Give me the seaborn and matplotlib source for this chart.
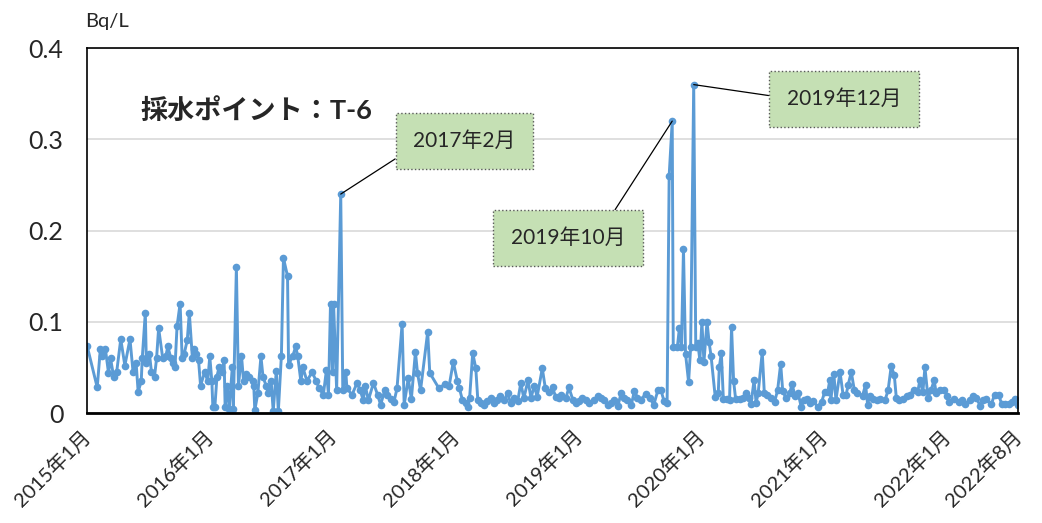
import seaborn as sns
import pandas as pd
import numpy as np
import matplotlib.pyplot as plt
from matplotlib.transforms import ScaledTranslation

# (months since 2015-01, Bq/L)
y2015 = [(0.0, 0.074), (1.0, 0.028), (1.3, 0.07), (1.5, 0.062), (1.8, 0.07), (2.1, 0.044), (2.3, 0.06),
         (2.6, 0.04), (2.9, 0.045), (3.3, 0.081), (3.7, 0.052), (4.2, 0.081), (4.5, 0.045), (4.8, 0.055),
         (5.0, 0.023), (5.3, 0.035), (5.4, 0.06), (5.7, 0.11), (5.8, 0.055), (6.1, 0.065), (6.3, 0.045),
         (6.6, 0.04), (6.8, 0.06), (7.0, 0.093), (7.4, 0.06), (7.7, 0.062), (7.9, 0.073), (8.2, 0.06),
         (8.4, 0.055), (8.6, 0.05), (8.8, 0.095), (9.1, 0.12), (9.3, 0.06), (9.5, 0.065), (9.8, 0.08),
         (10.0, 0.11), (10.3, 0.06), (10.5, 0.07), (10.7, 0.065), (10.9, 0.058), (11.1, 0.03),
         (11.5, 0.045), (11.8, 0.035)]
y2016 = [(12.0, 0.062), (12.2, 0.035), (12.3, 0.007), (12.5, 0.007), (12.7, 0.04), (12.9, 0.05),
         (13.2, 0.045), (13.4, 0.058), (13.5, 0.007), (13.7, 0.03), (13.9, 0.004), (14.2, 0.05),
         (14.3, 0.004), (14.6, 0.16), (14.8, 0.03), (15.1, 0.063), (15.3, 0.035), (15.5, 0.043),
         (15.8, 0.04), (16.2, 0.035), (16.3, 0.03), (16.4, 0.003), (16.7, 0.022), (17.0, 0.062),
         (17.2, 0.04), (17.5, 0.03), (17.7, 0.022), (18.0, 0.035), (18.2, 0.002), (18.5, 0.046),
         (18.7, 0.002), (19.0, 0.063), (19.2, 0.17), (19.6, 0.15), (19.7, 0.053), (20.1, 0.062),
         (20.4, 0.073), (20.6, 0.062), (20.9, 0.035), (21.1, 0.05), (21.5, 0.035), (22.0, 0.045),
         (22.4, 0.035), (22.7, 0.027), (23.1, 0.02), (23.4, 0.047), (23.6, 0.02), (23.8, 0.12)]
y2017 = [(24.0, 0.045), (24.1, 0.12), (24.4, 0.025), (24.8, 0.24), (25.0, 0.025), (25.3, 0.045),
         (25.4, 0.027), (25.9, 0.02), (26.4, 0.033), (26.7, 0.025), (27.0, 0.014), (27.2, 0.03),
         (27.5, 0.014), (28.0, 0.033), (28.4, 0.02), (28.7, 0.009), (29.1, 0.025), (29.3, 0.02),
         (29.7, 0.015), (30.0, 0.012), (30.3, 0.027), (30.8, 0.098), (31.0, 0.009), (31.4, 0.038),
         (31.7, 0.015), (32.1, 0.067), (32.3, 0.044), (32.6, 0.025), (33.3, 0.089), (33.5, 0.044),
         (34.4, 0.027), (35.0, 0.032), (35.4, 0.03)]
y2018 = [(35.8, 0.056), (36.2, 0.035), (36.4, 0.027), (36.7, 0.014), (37.0, 0.011), (37.2, 0.007),
         (37.4, 0.017), (37.7, 0.066), (38.0, 0.049), (38.2, 0.014), (38.5, 0.011), (38.8, 0.009),
         (39.1, 0.013), (39.5, 0.016), (39.8, 0.011), (40.1, 0.014), (40.4, 0.019), (40.8, 0.014),
         (41.1, 0.022), (41.4, 0.011), (41.7, 0.017), (42.1, 0.013), (42.4, 0.033), (42.7, 0.016),
         (43.1, 0.036), (43.4, 0.016), (43.7, 0.03), (44.0, 0.018), (44.5, 0.049), (44.8, 0.027),
         (45.2, 0.023), (45.5, 0.028), (45.8, 0.018), (46.1, 0.016), (46.3, 0.02), (46.8, 0.016),
         (47.1, 0.028), (47.5, 0.014), (47.8, 0.011)]
y2019 = [(48.1, 0.013), (48.4, 0.016), (48.8, 0.014), (49.1, 0.011), (49.6, 0.014), (49.9, 0.019),
         (50.2, 0.017), (50.5, 0.014), (50.9, 0.009), (51.2, 0.011), (51.5, 0.014), (51.9, 0.008),
         (52.2, 0.022), (52.5, 0.016), (52.8, 0.014), (53.2, 0.009), (53.5, 0.024), (53.8, 0.017),
         (54.1, 0.014), (54.6, 0.021), (55.0, 0.017), (55.4, 0.009), (55.8, 0.025), (56.1, 0.025),
         (56.4, 0.013), (56.7, 0.011), (56.9, 0.26), (57.2, 0.32), (57.3, 0.072), (57.7, 0.072),
         (57.9, 0.093), (58.1, 0.072), (58.3, 0.18), (58.5, 0.065), (58.8, 0.034), (59.0, 0.072),
         (59.3, 0.36), (59.5, 0.072), (59.7, 0.077)]
y2020 = [(59.9, 0.058), (60.1, 0.1), (60.3, 0.056), (60.6, 0.1), (60.8, 0.078), (61.0, 0.062),
         (61.4, 0.018), (61.7, 0.022), (61.8, 0.05), (62.0, 0.066), (62.2, 0.015), (62.6, 0.015),
         (62.8, 0.014), (63.0, 0.094), (63.2, 0.035), (63.4, 0.015), (63.8, 0.015), (64.1, 0.017),
         (64.4, 0.022), (64.7, 0.017), (64.9, 0.01), (65.2, 0.036), (65.4, 0.011), (65.6, 0.022),
         (66.0, 0.067), (66.2, 0.022), (66.5, 0.02), (66.9, 0.017), (67.2, 0.012), (67.5, 0.025),
         (67.8, 0.054), (68.0, 0.024), (68.3, 0.017), (68.7, 0.022), (68.9, 0.032), (69.2, 0.019),
         (69.5, 0.022), (69.8, 0.007), (70.1, 0.014), (70.4, 0.015), (70.7, 0.011), (71.0, 0.013),
         (71.4, 0.007), (71.8, 0.012)]
y2021 = [(72.1, 0.023), (72.4, 0.023), (72.6, 0.036), (72.7, 0.014), (73.0, 0.043), (73.2, 0.014),
         (73.6, 0.045), (73.9, 0.02), (74.2, 0.02), (74.4, 0.031), (74.7, 0.045), (75.0, 0.025),
         (75.3, 0.022), (75.8, 0.019), (76.1, 0.031), (76.3, 0.009), (76.5, 0.019), (76.8, 0.015),
         (77.2, 0.014), (77.5, 0.015), (78.0, 0.014), (78.3, 0.025), (78.6, 0.051), (78.9, 0.042),
         (79.1, 0.017), (79.4, 0.014), (79.8, 0.015), (80.1, 0.019), (80.4, 0.02), (80.8, 0.025),
         (81.2, 0.023), (81.4, 0.036), (81.7, 0.023), (81.9, 0.05), (82.2, 0.017), (82.5, 0.025),
         (82.8, 0.036), (83.0, 0.022), (83.4, 0.025), (83.8, 0.025)]
y2022 = [(84.1, 0.019), (84.3, 0.012), (84.7, 0.015), (85.2, 0.012), (85.5, 0.014), (85.8, 0.01),
         (86.3, 0.014), (86.6, 0.019), (86.9, 0.017), (87.3, 0.008), (87.6, 0.014), (87.9, 0.015),
         (88.4, 0.01), (88.7, 0.02), (89.1, 0.02), (89.4, 0.01), (89.7, 0.01), (90.1, 0.01),
         (90.4, 0.012), (90.7, 0.015), (91.0, 0.009)]

tick_months = [0, 12, 24, 36, 48, 60, 72, 84, 91]
tick_labels = ['2015年1月', '2016年1月', '2017年1月', '2018年1月', '2019年1月',
               '2020年1月', '2021年1月', '2022年1月', '2022年8月']

# annotated peaks: label, (month, value), box centre, where the leader leaves the box
notes = [('2017年2月', (24.8, 0.24), (36.9, 0.298), (0, 0.2)),
         ('2019年10月', (57.2, 0.32), (47.0, 0.192), (0.81, 1.0)),
         ('2019年12月', (59.3, 0.36), (74.0, 0.344), (0, 0.55))]

df = pd.DataFrame(y2015 + y2016 + y2017 + y2018 + y2019 + y2020 + y2021 + y2022,
                  columns=['month', 'value'])

sns.set_style('white')
plt.rcParams['font.family'] = ['Lato', 'Noto Sans CJK JP', 'DejaVu Sans']

f = plt.figure(figsize=(10.42, 5.23), dpi=100)
ax = f.add_axes([0.0835, 0.2103, 0.8935, 0.6977])

ax.yaxis.grid(True, color='#d9d9d9', lw=1.2)
ax.set_axisbelow(True)
sns.lineplot(data=df, x='month', y='value', estimator=None, sort=False,
             color='#5B9BD5', lw=2.1, marker='o', markersize=5.5, markeredgewidth=0, ax=ax)

ax.set_xlim(0, 91)
ax.set_ylim(0, 0.4)
ax.set_yticks([0, 0.1, 0.2, 0.3, 0.4])
ax.set_yticklabels(['0', '0.1', '0.2', '0.3', '0.4'], fontsize=18)
ax.set_xticks(tick_months)
ax.set_xticklabels(tick_labels, fontsize=14.5, rotation=45, ha='right', rotation_mode='anchor')
ax.tick_params(axis='y', length=0, pad=17)
ax.tick_params(axis='x', length=7, width=1.2, direction='out', pad=3, color='black')
for lbl in ax.get_xticklabels():
    lbl.set_transform(lbl.get_transform() + ScaledTranslation(-4 / 72, 0, f.dpi_scale_trans))
ax.set_xlabel('')
ax.set_ylabel('')
for s in ax.spines.values():
    s.set_color('black')
    s.set_linewidth(1.2)
ax.spines['bottom'].set_linewidth(2)

f.text(0.0816, 0.958, 'Bq/L', fontsize=14.5, ha='left', va='center')
ax.text(0.057, 0.83, '採水ポイント：T-6', transform=ax.transAxes, fontsize=19.5,
        fontweight='bold', ha='left', va='center')

for label, pt, box, rp in notes:
    ax.annotate(label, xy=pt, xytext=box, ha='center', va='center', fontsize=15,
                bbox=dict(boxstyle='square,pad=0.85', fc='#C5E0B4', ec='#595959', ls=':', lw=1),
                arrowprops=dict(arrowstyle='-', color='black', lw=0.9, relpos=rp,
                                shrinkA=0, shrinkB=0))

f.savefig('out.png', dpi=100)
